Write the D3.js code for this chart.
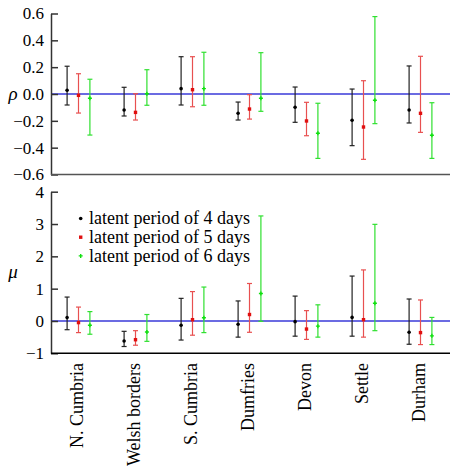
<!DOCTYPE html>
<html>
<head>
<meta charset="utf-8">
<script src="https://cdn.jsdelivr.net/npm/d3@7"></script>
<style>
  body { margin: 0; background: #fff; }
  svg text { font-family: "Liberation Serif", "Times New Roman", "DejaVu Serif", serif; }
</style>
</head>
<body>
<svg id="chart" width="452" height="468"></svg>
<script>
const regions = ["N. Cumbria", "Welsh borders", "S. Cumbria", "Dumfries", "Devon", "Settle", "Durham"];
const seriesNames = ["latent period of 4 days", "latent period of 5 days", "latent period of 6 days"];

// rho estimates (point, lower, upper)
const rho4 = [0.028, -0.119, 0.04, -0.144, -0.099, -0.196, -0.119];
const rho4Lo = [-0.082, -0.164, -0.082, -0.194, -0.211, -0.385, -0.216];
const rho4Hi = [0.207, 0.05, 0.278, -0.06, 0.052, 0.037, 0.209];
const rho5 = [-0.01, -0.137, 0.032, -0.112, -0.201, -0.246, -0.144];
const rho5Lo = [-0.142, -0.194, -0.095, -0.187, -0.311, -0.487, -0.286];
const rho5Hi = [0.151, 0.002, 0.278, -0.005, -0.062, 0.099, 0.281];
const rho6 = [-0.032, 0.002, 0.04, -0.032, -0.293, -0.047, -0.308];
const rho6Lo = [-0.306, -0.084, -0.084, -0.129, -0.48, -0.221, -0.48];
const rho6Hi = [0.11, 0.181, 0.311, 0.308, -0.069, 0.577, -0.065];

// mu estimates (point, lower, upper)
const mu4 = [0.105, -0.62, -0.13, -0.10, -0.02, 0.11, -0.35];
const mu4Lo = [-0.27, -0.79, -0.59, -0.50, -0.47, -0.47, -0.72];
const mu4Hi = [0.74, -0.32, 0.70, 0.62, 0.77, 1.39, 0.68];
const mu5 = [-0.05, -0.58, 0.04, 0.20, -0.25, 0.04, -0.36];
const mu5Lo = [-0.36, -0.75, -0.44, -0.35, -0.57, -0.50, -0.73];
const mu5Hi = [0.43, -0.30, 0.91, 1.16, 0.32, 1.58, 0.65];
const mu6 = [-0.13, -0.34, 0.10, 0.85, -0.16, 0.55, -0.46];
const mu6Lo = [-0.41, -0.63, -0.36, -0.01, -0.50, -0.30, -0.73];
const mu6Hi = [0.29, 0.20, 1.05, 3.25, 0.50, 2.99, 0.11];

const rhoTicks = [-0.6, -0.4, -0.2, 0.0, 0.2, 0.4, 0.6];
const muTicks = [-1, 0, 1, 2, 3, 4];

const FONT = "Liberation Serif, Times New Roman, serif";
const colors = ["#000000", "#e01010", "#10e010"];
const barColors = ["#222222", "#e85050", "#30e030"];
const offsets = [-11.4, 0, 11.4];

const svg = d3.select("#chart").attr("font-family", FONT);
const x = d3.scaleBand().domain(regions).range([50, 449]).padding(0);

const panels = [
  { label: "ρ", y: d3.scaleLinear().domain([-0.6, 0.6]).range([174.5, 13.5]), ticks: rhoTicks,
    fmt: d => (d < 0 ? "\u2212" : "") + Math.abs(d).toFixed(1),
    series: [[rho4, rho4Lo, rho4Hi], [rho5, rho5Lo, rho5Hi], [rho6, rho6Lo, rho6Hi]], axisColor: "#555" },
  { label: "μ", y: d3.scaleLinear().domain([-1, 4]).range([353.3, 191.7]), ticks: muTicks,
    fmt: d => (d < 0 ? "\u2212" : "") + Math.abs(d),
    series: [[mu4, mu4Lo, mu4Hi], [mu5, mu5Lo, mu5Hi], [mu6, mu6Lo, mu6Hi]], axisColor: "#000" }
];

function marker(g, k, cx, cy) {
  if (k === 0) {
    g.append("circle").attr("cx", cx).attr("cy", cy).attr("r", 1.8).attr("fill", colors[0]);
  } else if (k === 1) {
    g.append("rect").attr("x", cx - 1.7).attr("y", cy - 1.7).attr("width", 3.4).attr("height", 3.4).attr("fill", colors[1]);
  } else {
    g.append("path").attr("d", `M${cx - 2},${cy}L${cx + 2},${cy}M${cx},${cy - 2}L${cx},${cy + 2}`)
      .attr("stroke", colors[2]).attr("stroke-width", 1.4);
  }
}

panels.forEach(p => {
  const g = svg.append("g");
  const [y0, y1] = p.y.range();
  g.append("line").attr("x1", 51).attr("x2", 450).attr("y1", p.y(0)).attr("y2", p.y(0))
    .attr("stroke", "#3a3ad8").attr("stroke-width", 1.5);
  const ax = g.append("g").attr("transform", "translate(51,0)")
    .call(d3.axisLeft(p.y).tickValues(p.ticks).tickFormat(p.fmt).tickSizeInner(-7).tickSizeOuter(0).tickPadding(7));
  ax.attr("font-family", FONT).attr("font-size", 17);
  ax.select(".domain").attr("stroke", "#333").attr("stroke-width", 1.5);
  ax.selectAll(".tick line").attr("stroke", "#333").attr("stroke-width", 1.5);
  ax.selectAll(".tick text").attr("fill", "#000");
  g.append("line").attr("x1", 51).attr("x2", 450).attr("y1", y0).attr("y2", y0)
    .attr("stroke", p.axisColor).attr("stroke-width", 1.5);
  g.append("text").attr("x", 13).attr("y", (y0 + y1) / 2).attr("dy", "0.3em")
    .attr("text-anchor", "middle").attr("font-size", 19).attr("font-style", "italic").text(p.label);
  p.series.forEach((s, k) => {
    const [mid, lo, hi] = s;
    regions.forEach((r, i) => {
      const cx = x(r) + x.bandwidth() / 2 + offsets[k];
      const gb = g.append("g");
      gb.append("line").attr("x1", cx).attr("x2", cx).attr("y1", p.y(lo[i])).attr("y2", p.y(hi[i]))
        .attr("stroke", barColors[k]).attr("stroke-width", 1.2);
      [lo[i], hi[i]].forEach(v => {
        gb.append("line").attr("x1", cx - 2.5).attr("x2", cx + 2.5).attr("y1", p.y(v)).attr("y2", p.y(v))
          .attr("stroke", barColors[k]).attr("stroke-width", 1.2);
      });
      marker(gb, k, cx, p.y(mid[i]));
    });
  });
});

svg.append("g").selectAll("text").data(regions).join("text")
  .attr("transform", d => `translate(${x(d) + x.bandwidth() / 2 - 1.5},363) rotate(-90)`)
  .attr("text-anchor", "end").attr("dy", "0.35em")
  .attr("font-size", 18).text(d => d);

const leg = svg.append("g");
seriesNames.forEach((name, k) => {
  const ly = 218.5 + k * 18.7;
  marker(leg, k, 80.7, ly);
  leg.append("text").attr("x", 89).attr("y", ly).attr("dy", "0.33em")
    .attr("font-size", 18).text(name);
});
</script>
</body>
</html>
